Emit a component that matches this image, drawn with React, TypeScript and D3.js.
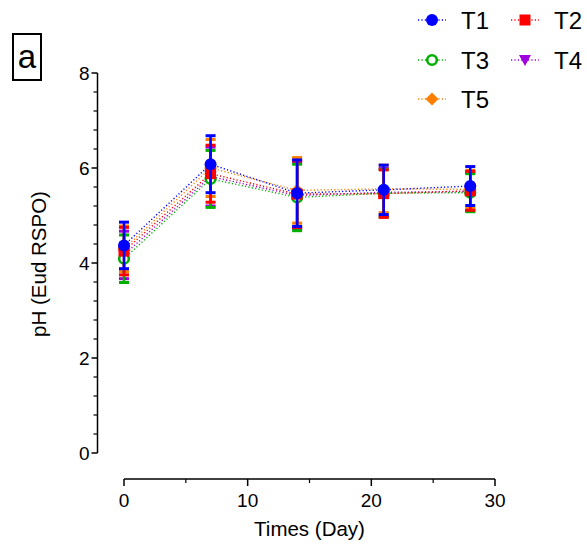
import React from "react";
import * as d3 from "d3";

const days = [0, 7, 14, 21, 28];
const seriesNames = ["T1", "T2", "T3", "T4", "T5"];
const T1 = [4.37, 6.08, 5.47, 5.54, 5.62];
const T2 = [4.25, 5.88, 5.45, 5.46, 5.52];
const T3 = [4.09, 5.77, 5.38, 5.47, 5.48];
const T4 = [4.17, 5.82, 5.42, 5.49, 5.5];
const T5 = [4.3, 6.0, 5.53, 5.56, 5.55];
const T1sd = [0.49, 0.6, 0.7, 0.52, 0.41];
const T2sd = [0.5, 0.6, 0.7, 0.5, 0.41];
const T3sd = [0.5, 0.6, 0.7, 0.5, 0.4];
const T4sd = [0.5, 0.62, 0.7, 0.5, 0.4];
const T5sd = [0.48, 0.6, 0.69, 0.5, 0.4];
const xTicks = [0, 10, 20, 30];
const xMinor = [5, 15, 25];
const yTicks = [0, 2, 4, 6, 8];

const colors = ["#0000ff", "#ff0000", "#00b000", "#a000e0", "#ff8000"];
const shapes = ["circle", "square", "ring", "tri", "diamond"];
const values = [T1, T2, T3, T4, T5];
const sds = [T1sd, T2sd, T3sd, T4sd, T5sd];

const FONT = "Arial, 'Liberation Sans', sans-serif";

function Marker({ shape, color, cx, cy }: { shape: string; color: string; cx: number; cy: number }) {
  if (shape === "circle") return <circle cx={cx} cy={cy} r={6} fill={color} />;
  if (shape === "square") return <rect x={cx - 5.5} y={cy - 5.5} width={11} height={11} fill={color} />;
  if (shape === "ring") return <circle cx={cx} cy={cy} r={4.8} fill="white" stroke={color} strokeWidth={2.6} />;
  if (shape === "tri")
    return <path d={`M${cx - 6},${cy - 5} L${cx + 6},${cy - 5} L${cx},${cy + 6} Z`} fill={color} />;
  return <path d={`M${cx},${cy - 6.5} L${cx + 6.5},${cy} L${cx},${cy + 6.5} L${cx - 6.5},${cy} Z`} fill={color} />;
}

export default function App() {
  const W = 587, H = 548;
  const x = d3.scaleLinear().domain([0, 30]).range([124, 495]);
  const y = d3.scaleLinear().domain([0, 8]).range([453, 73]);
  const yMinor = d3.range(0, 8.0001, 0.4).filter((v) => Math.abs(v / 2 - Math.round(v / 2)) > 1e-6);
  const line = d3.line<[number, number]>().x((d) => x(d[0])).y((d) => y(d[1]));
  const order = [4, 3, 2, 1, 0];
  const xAxisY = 479;
  const yAxisX = 97.5;

  const legendPos = [
    [432, 20], [525, 20], [432, 60], [525, 60], [432, 99],
  ];

  return (
    <svg width={W} height={H} style={{ position: "absolute", left: 0, top: 0, background: "white" }} fontFamily={FONT}>
      <rect x={0} y={0} width={W} height={H} fill="white" />
      {/* panel label */}
      <rect x={13} y={34} width={28} height={46} fill="none" stroke="black" strokeWidth={2} />
      <text x={27} y={68} textAnchor="middle" fontSize={33} fill="black">a</text>

      {/* y axis */}
      <line x1={yAxisX} x2={yAxisX} y1={y(8)} y2={y(0)} stroke="black" strokeWidth={1.5} />
      {yTicks.map((t) => (
        <g key={"yt" + t}>
          <line x1={yAxisX - 6} x2={yAxisX} y1={y(t)} y2={y(t)} stroke="black" strokeWidth={1.5} />
          <text x={yAxisX - 8} y={y(t) + 7} textAnchor="end" fontSize={19} fill="black">{t}</text>
        </g>
      ))}
      {yMinor.map((t) => (
        <line key={"ym" + t} x1={yAxisX - 4} x2={yAxisX} y1={y(t)} y2={y(t)} stroke="black" strokeWidth={1.2} />
      ))}
      <text
        transform={`translate(46,${y(4) + 1}) rotate(-90)`}
        textAnchor="middle"
        fontSize={20.5}
        fill="black"
      >
        pH (Eud RSPO)
      </text>

      {/* x axis */}
      <line x1={x(0)} x2={x(30)} y1={xAxisY} y2={xAxisY} stroke="black" strokeWidth={1.5} />
      {xTicks.map((t) => (
        <g key={"xt" + t}>
          <line x1={x(t)} x2={x(t)} y1={xAxisY} y2={xAxisY + 7} stroke="black" strokeWidth={1.5} />
          <text x={x(t)} y={xAxisY + 28} textAnchor="middle" fontSize={19} fill="black">{t}</text>
        </g>
      ))}
      {xMinor.map((t) => (
        <line key={"xm" + t} x1={x(t)} x2={x(t)} y1={xAxisY} y2={xAxisY + 4} stroke="black" strokeWidth={1.2} />
      ))}
      <text x={x(15)} y={536} textAnchor="middle" fontSize={20.5} fill="black">Times (Day)</text>

      {/* dotted lines */}
      {order.map((i) => (
        <path
          key={"ln" + i}
          d={line(days.map((d, k) => [d, values[i][k]] as [number, number])) || ""}
          fill="none"
          stroke={colors[i]}
          strokeWidth={1.4}
          strokeDasharray="1.2,2.2"
        />
      ))}

      {/* error bars and markers */}
      {order.map((i) => (
        <g key={"s" + i}>
          {days.map((d, k) => {
            const cx = x(d);
            const top = y(values[i][k] + sds[i][k]);
            const bot = y(values[i][k] - sds[i][k]);
            return (
              <g key={k}>
                <line x1={cx} x2={cx} y1={top} y2={bot} stroke={colors[i]} strokeWidth={2.5} />
                <line x1={cx - 5} x2={cx + 5} y1={top} y2={top} stroke={colors[i]} strokeWidth={3} />
                <line x1={cx - 5} x2={cx + 5} y1={bot} y2={bot} stroke={colors[i]} strokeWidth={3} />
              </g>
            );
          })}
          {days.map((d, k) => (
            <Marker key={"m" + k} shape={shapes[i]} color={colors[i]} cx={x(d)} cy={y(values[i][k])} />
          ))}
        </g>
      ))}

      {/* legend */}
      {seriesNames.map((name, i) => {
        const [lx, ly] = legendPos[i];
        return (
          <g key={"lg" + name}>
            <line x1={lx - 14} x2={lx + 14} y1={ly} y2={ly} stroke={colors[i]} strokeWidth={1.4} strokeDasharray="1.2,2.2" />
            <Marker shape={shapes[i]} color={colors[i]} cx={lx} cy={ly} />
            <text x={lx + 29} y={ly + 9} fontSize={24} fill="black">{name}</text>
          </g>
        );
      })}
    </svg>
  );
}
